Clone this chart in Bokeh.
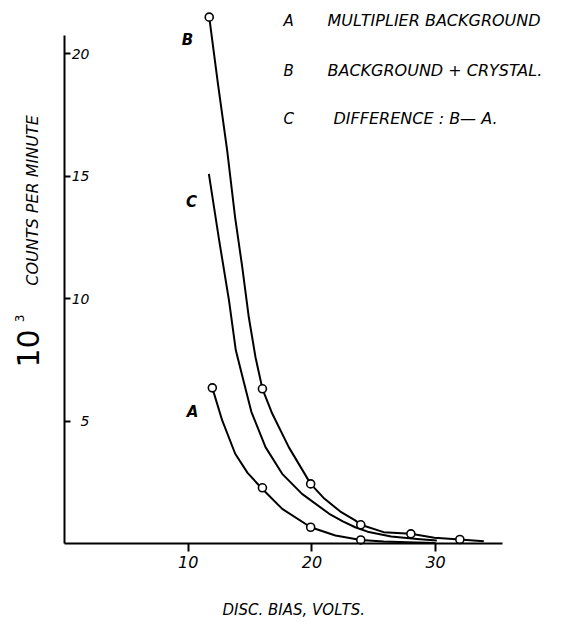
import numpy as np
from bokeh.plotting import figure
from bokeh.models import Label, Range1d, FixedTicker
from bokeh.embed import file_html
from bokeh.resources import INLINE

# measured points (open circles)
a_bias = [11.95, 16.0, 19.9, 23.95]
a_counts = [6.37, 2.29, 0.68, 0.16]
b_bias = [11.7, 16.0, 19.9, 23.95, 28.0, 31.96]
b_counts = [21.5, 6.33, 2.45, 0.78, 0.41, 0.18]

# hand-drawn curves
a_curve_x = [11.95, 12.75, 13.8, 14.8, 15.9, 17.6, 19.9, 21.9, 23.95, 25.8, 27.7, 30.0]
a_curve_y = [6.37, 5.04, 3.68, 2.9, 2.29, 1.43, 0.68, 0.34, 0.16, 0.1, 0.07, 0.04]
b_curve_x = [11.7, 12.4, 13.15, 13.8, 14.37, 14.9, 15.44, 16.0, 16.8, 18.13, 19.9, 21.0,
             22.3, 23.5, 23.95, 25.8, 28.0, 29.9, 31.96, 33.9]
b_curve_y = [21.5, 18.8, 16.06, 13.3, 11.3, 9.25, 7.62, 6.33, 5.31, 3.95, 2.45, 1.85,
             1.32, 0.96, 0.78, 0.48, 0.41, 0.25, 0.18, 0.11]
c_curve_x = [11.67, 12.5, 13.3, 13.85, 14.5, 15.1, 16.25, 17.6, 19.2, 21.4, 22.5, 23.5,
             24.5, 26.4, 28.5, 30.1]
c_curve_y = [15.1, 12.4, 9.93, 7.9, 6.6, 5.4, 3.95, 2.86, 2.04, 1.23, 0.92, 0.68,
             0.5, 0.3, 0.2, 0.14]

x_ticks = [10, 20, 30]
y_ticks = [5, 10, 15, 20]

legend_keys = ["A", "B", "C"]
legend_texts = ["MULTIPLIER  BACKGROUND", "BACKGROUND + CRYSTAL.", "DIFFERENCE : B\u2014 A."]

FONT = "DejaVu Sans"
W, H = 560, 622

p = figure(width=W, height=H, output_backend="svg", toolbar_location=None,
           x_axis_location="above",
           x_range=Range1d(-64 / 12.37, (W - 64) / 12.37),
           y_range=Range1d(-(H - 543.4) / 24.5, 543.4 / 24.5),
           min_border_left=0, min_border_right=0, min_border_top=0,
           min_border_bottom=0)
p.outline_line_color = None
p.grid.visible = False
p.background_fill_color = "white"

# x axis (drawn at y = 0, labels below the line)
xa = p.xaxis[0]
xa.fixed_location = 0
xa.ticker = FixedTicker(ticks=x_ticks)
xa.bounds = (0, 35.4)
xa.axis_line_width = 2
xa.axis_line_color = "black"
xa.major_tick_out = 0
xa.major_tick_in = 8
xa.major_tick_line_width = 2
xa.minor_tick_out = 0
xa.minor_tick_in = 0
xa.major_label_standoff = -24
xa.major_label_text_font = FONT
xa.major_label_text_font_style = "italic"
xa.major_label_text_font_size = "16px"
xa.major_label_text_color = "black"

# y axis (drawn at x = 0, labels right of the line)
ya = p.yaxis[0]
ya.fixed_location = 0
ya.ticker = FixedTicker(ticks=y_ticks)
ya.bounds = (0, 20.75)
ya.axis_line_width = 2
ya.axis_line_color = "black"
ya.major_tick_out = 0
ya.major_tick_in = 6
ya.major_tick_line_width = 2
ya.minor_tick_out = 0
ya.minor_tick_in = 0
ya.major_label_standoff = -25
ya.major_label_text_font = FONT
ya.major_label_text_font_style = "italic"
ya.major_label_text_font_size = "14px"
ya.major_label_text_color = "black"

# curves
for cx, cy in [(a_curve_x, a_curve_y), (b_curve_x, b_curve_y), (c_curve_x, c_curve_y)]:
    p.line(cx, cy, line_color="black", line_width=2, line_join="round")

# open circles
p.scatter(a_bias, a_counts, size=8, marker="circle", fill_color="white",
          line_color="black", line_width=1.6)
p.scatter(b_bias, b_counts, size=8, marker="circle", fill_color="white",
          line_color="black", line_width=1.6)


def lab(x, y, text, size, align="left", angle=0.0, style="italic"):
    p.add_layout(Label(x=x, y=y, text=text, text_font=FONT, text_font_style=style,
                       text_font_size=size, text_align=align, text_baseline="middle",
                       angle=angle, text_color="black"))


# curve letters
lab(9.94, 20.57, "B", "15px", "center", style="bold italic")
lab(10.27, 13.94, "C", "15px", "center", style="bold italic")
lab(10.35, 5.37, "A", "15px", "center", style="bold italic")

# legend
legend_y = [21.36, 19.32, 17.36]
for k, t, yy, tx in zip(legend_keys, legend_texts, legend_y, [21.26, 21.26, 21.75]):
    lab(17.7, yy, k, "15px")
    lab(tx, yy, t, "16px")

# y axis title
lab(-2.99, 7.98, "10", "30px", "center", angle=np.pi / 2, style="normal")
lab(-3.64, 9.2, "3", "12px", "center", angle=np.pi / 2, style="normal")
lab(-2.59, 14.02, "COUNTS PER MINUTE", "16px", "center", angle=np.pi / 2)

# x axis title
lab(18.92, -2.68, "DISC.  BIAS,  VOLTS.", "15px", "center")

open("out.html", "w").write(file_html(p, INLINE))
